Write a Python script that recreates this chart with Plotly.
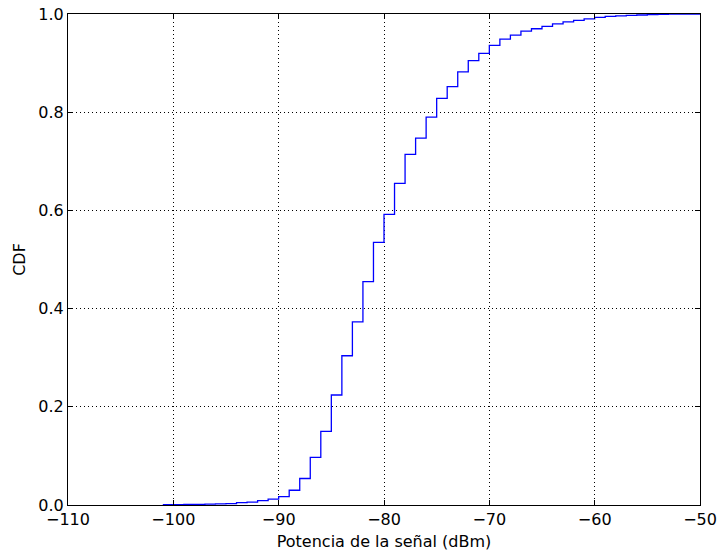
import plotly.graph_objects as go

bin_left = list(range(-101, -52))
cdf = [0.0005, 0.0008, 0.001, 0.0013, 0.0017, 0.0022, 0.0027, 0.0047, 0.006, 0.009,
       0.012, 0.017, 0.030, 0.054, 0.097, 0.150, 0.224, 0.304, 0.373, 0.455,
       0.535, 0.592, 0.655, 0.714, 0.747, 0.790, 0.828, 0.852, 0.882, 0.905,
       0.920, 0.936, 0.949, 0.957, 0.965, 0.970, 0.975, 0.980, 0.984, 0.987,
       0.990, 0.993, 0.995, 0.996, 0.997, 0.998, 0.999, 0.9995, 1.0]
x_end = -50

xticks = [-110, -100, -90, -80, -70, -60, -50]
yticks = [0.0, 0.2, 0.4, 0.6, 0.8, 1.0]

xs = bin_left + [x_end]
ys = cdf + [cdf[-1]]

fig = go.Figure()
fig.add_trace(go.Scatter(x=xs, y=ys, mode="lines", line=dict(color="#0000ff", width=1.3, shape="hv"),
                         showlegend=False, hoverinfo="skip", cliponaxis=False))

font = "DejaVu Sans, sans-serif"
axis_common = dict(showline=True, linecolor="black", linewidth=1, mirror="ticks",
                   ticks="inside", ticklen=5, tickcolor="black", tickwidth=1,
                   showgrid=True, gridcolor="black", griddash="1px,3px", gridwidth=1,
                   zeroline=False, automargin=False,
                   tickfont=dict(family=font, size=16, color="black"))

fig.update_xaxes(range=[-110, -50], tickvals=xticks,
                 ticktext=[("\u2212" + str(-t)) if t < 0 else str(t) for t in xticks],
                 title=dict(text="Potencia de la señal (dBm)", font=dict(family=font, size=16, color="black"), standoff=7),
                 **axis_common)
fig.update_yaxes(range=[0, 1], tickvals=yticks, ticktext=[f"{t:.1f}" for t in yticks],
                 title=dict(text="CDF", font=dict(family=font, size=16, color="black"), standoff=8),
                 **axis_common)

fig.update_layout(width=720, height=556, margin=dict(l=68, r=20, t=14, b=51),
                  plot_bgcolor="white", paper_bgcolor="white",
                  font=dict(family=font, size=16, color="black"))

fig.write_html("out.html")
